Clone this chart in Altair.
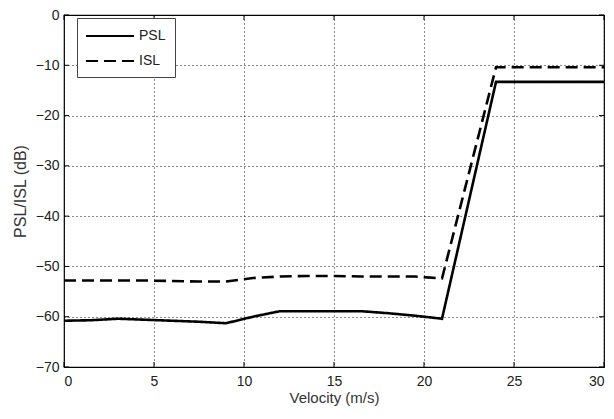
import altair as alt
import pandas as pd

velocity = [0, 1.5, 3, 4.5, 6, 7.5, 9, 10.5, 12, 13.5, 15, 16.5, 18, 19.5, 21, 24, 30]
psl = [-60.8, -60.7, -60.4, -60.6, -60.8, -61.0, -61.3, -60.0, -58.9, -58.9, -58.9, -58.9, -59.3, -59.8, -60.4, -13.3, -13.3]
isl = [-52.8, -52.8, -52.8, -52.8, -52.9, -53.0, -53.0, -52.3, -52.0, -51.9, -51.9, -52.0, -52.0, -52.0, -52.4, -10.4, -10.4]
x_ticks = [0, 5, 10, 15, 20, 25, 30]
y_ticks = [-70, -60, -50, -40, -30, -20, -10, 0]

rows = []
for v, p, i in zip(velocity, psl, isl):
    rows.append({"v": v, "val": p, "series": "PSL"})
    rows.append({"v": v, "val": i, "series": "ISL"})
df = pd.DataFrame(rows)

W, H = 540, 352
FONT = "Liberation Sans"

xs = alt.Scale(domain=[0, 30], nice=False, zero=False)
ys = alt.Scale(domain=[-70, 0], nice=False, zero=False)

lines = alt.Chart(df).mark_line(strokeWidth=2.6, color="black", clip=True).encode(
    x=alt.X("v:Q", scale=xs, title="Velocity (m/s)",
            axis=alt.Axis(values=x_ticks, grid=True, gridDash=[1, 3], gridColor="#000",
                          gridOpacity=0.9, ticks=False, domain=False, labelPadding=7,
                          titlePadding=2, titleFontSize=15)),
    y=alt.Y("val:Q", scale=ys, title="PSL/ISL (dB)",
            axis=alt.Axis(values=y_ticks, grid=True, gridDash=[1, 3], gridColor="#000",
                          gridOpacity=0.9, ticks=False, domain=False, labelPadding=5,
                          titlePadding=7)),
    strokeDash=alt.StrokeDash("series:N",
                              scale=alt.Scale(domain=["PSL", "ISL"], range=[[1, 0], [12, 6]]),
                              legend=alt.Legend(title=None, orient="none", legendX=13, legendY=3,
                                                symbolType="M-3,0H3", symbolSize=256,
                                                symbolOffset=15,
                                                symbolStrokeColor="black", symbolStrokeWidth=2,
                                                labelFontSize=14, labelFont=FONT, labelColor="#222",
                                                fillColor="white", strokeColor="#444",
                                                padding=9, rowPadding=9, labelOffset=20)),
    order="v:Q",
)

xt = pd.DataFrame({"t": x_ticks})
yt = pd.DataFrame({"t": y_ticks})
tb = alt.Chart(xt).mark_rule(color="black").encode(x=alt.X("t:Q", scale=xs), y=alt.value(H), y2=alt.value(H - 5))
tt = alt.Chart(xt).mark_rule(color="black").encode(x=alt.X("t:Q", scale=xs), y=alt.value(0), y2=alt.value(5))
tl = alt.Chart(yt).mark_rule(color="black").encode(y=alt.Y("t:Q", scale=ys), x=alt.value(0), x2=alt.value(5))
tr = alt.Chart(yt).mark_rule(color="black").encode(y=alt.Y("t:Q", scale=ys), x=alt.value(W), x2=alt.value(W - 5))

chart = alt.layer(lines, tb, tt, tl, tr).properties(
    width=W, height=H,
    background="white",
    autosize=alt.AutoSizeParams(type="none"),
    padding={"left": 56, "top": 7, "right": 2, "bottom": 40},
).configure_view(stroke="black", strokeWidth=1.2).configure_axis(
    labelFont=FONT, labelFontSize=14, labelColor="#222",
    titleFont=FONT, titleFontSize=16, titleColor="#333", titleFontWeight="normal",
)

chart.save("out.html", embed_options={"renderer": "svg", "actions": False})
